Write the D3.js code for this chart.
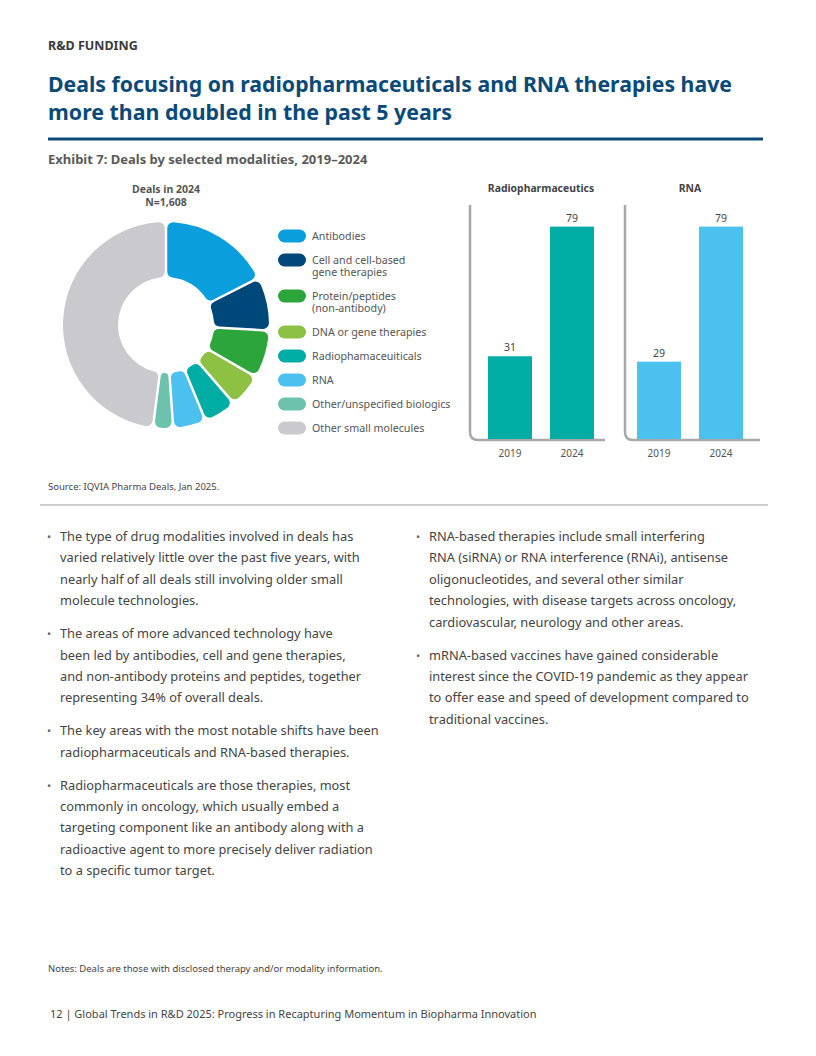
<!DOCTYPE html>
<html>
<head>
<meta charset="utf-8">
<script src="https://cdn.jsdelivr.net/npm/d3@7"></script>
<style>
    body { margin: 0; background: #fff; }
    text { font-family: "Noto Sans", "Open Sans", sans-serif; }
</style>
</head>
<body>
<div id="page"></div>
<script>
// donut: deals in 2024 by modality (N=1,608)
var modalities = ["Antibodies", "Cell and cell-based gene therapies", "Protein/peptides (non-antibody)",
    "DNA or gene therapies", "Radiophamaceuiticals", "RNA", "Other/unspecified biologics", "Other small molecules"];
var legendLines = [["Antibodies"], ["Cell and cell-based", "gene therapies"], ["Protein/peptides", "(non-antibody)"],
    ["DNA or gene therapies"], ["Radiophamaceuiticals"], ["RNA"], ["Other/unspecified biologics"], ["Other small molecules"]];
var deals2024 = [284, 132, 118, 82, 79, 79, 46, 788];
var modalityColors = ["#0a9fdc", "#004879", "#2ca53a", "#8cc143", "#00ada4", "#4cc0ef", "#6cc2ac", "#c9c9ce"];

// bar panels
var years = ["2019", "2024"];
var radioDeals = [31, 79];
var rnaDeals = [29, 79];

var bulletsLeft = [
    ["The type of drug modalities involved in deals has", "varied relatively little over the past five years, with",
        "nearly half of all deals still involving older small", "molecule technologies."],
    ["The areas of more advanced technology have", "been led by antibodies, cell and gene therapies,",
        "and non-antibody proteins and peptides, together", "representing 34% of overall deals."],
    ["The key areas with the most notable shifts have been", "radiopharmaceuticals and RNA-based therapies."],
    ["Radiopharmaceuticals are those therapies, most", "commonly in oncology, which usually embed a",
        "targeting component like an antibody along with a", "radioactive agent to more precisely deliver radiation",
        "to a specific tumor target."]
];
var bulletsRight = [
    ["RNA-based therapies include small interfering", "RNA (siRNA) or RNA interference (RNAi), antisense",
        "oligonucleotides, and several other similar", "technologies, with disease targets across oncology,",
        "cardiovascular, neurology and other areas."],
    ["mRNA-based vaccines have gained considerable", "interest since the COVID-19 pandemic as they appear",
        "to offer ease and speed of development compared to", "traditional vaccines."]
];

var W = 816, H = 1056;
var svg = d3.select("#page").append("svg")
    .attr("width", W)
    .attr("height", H);

// header
svg.append("text")
    .attr("x", 48).attr("y", 50)
    .style("font-size", "12.5px").style("font-weight", "700").style("fill", "#3a3a3a")
    .text("R&D FUNDING");

var titleLines = ["Deals focusing on radiopharmaceuticals and RNA therapies have", "more than doubled in the past 5 years"];
var titleWidths = [684, 404];
svg.selectAll(".title")
    .data(titleLines)
    .enter().append("text")
    .attr("class", "title")
    .attr("x", 48)
    .attr("y", function (d, i) { return 92 + i * 28; })
    .attr("textLength", function (d, i) { return titleWidths[i]; })
    .attr("lengthAdjust", "spacingAndGlyphs")
    .style("font-size", "22px").style("font-weight", "700").style("fill", "#0b4a78")
    .text(function (d) { return d; });

svg.append("line")
    .attr("x1", 48).attr("x2", 763).attr("y1", 139).attr("y2", 139)
    .style("stroke", "#0b4a78").style("stroke-width", 3);

svg.append("text")
    .attr("x", 48).attr("y", 164)
    .style("font-size", "13px").style("font-weight", "700").style("fill", "#5a5a5a")
    .text("Exhibit 7: Deals by selected modalities, 2019\u20132024");

// donut
var cx = 166, cy = 325;
svg.append("text")
    .attr("x", cx).attr("y", 193)
    .attr("text-anchor", "middle")
    .style("font-size", "10.5px").style("font-weight", "700").style("fill", "#555")
    .text("Deals in 2024");
svg.append("text")
    .attr("x", cx).attr("y", 206)
    .attr("text-anchor", "middle")
    .style("font-size", "10.5px").style("font-weight", "700").style("fill", "#555")
    .text("N=1,608");

var pie = d3.pie().sort(null).padAngle(0.022);
var arc = d3.arc().innerRadius(48).outerRadius(103).cornerRadius(6);

svg.append("g")
    .attr("transform", "translate(" + cx + "," + cy + ")")
    .selectAll("path")
    .data(pie(deals2024))
    .enter().append("path")
    .attr("d", arc)
    .style("fill", function (d, i) { return modalityColors[i]; });

// legend
var legendY = [];
var ly = 236;
legendLines.forEach(function (l) {
    legendY.push(ly);
    ly += 24 + (l.length - 1) * 12;
});

var legend = svg.selectAll(".legend")
    .data(legendLines)
    .enter().append("g")
    .attr("class", "legend")
    .attr("transform", function (d, i) { return "translate(278," + legendY[i] + ")"; });

legend.append("rect")
    .attr("x", 0).attr("y", -6.5)
    .attr("width", 28).attr("height", 13)
    .attr("rx", 6.5)
    .style("fill", function (d, i) { return modalityColors[i]; });

legend.each(function (d) {
    var g = d3.select(this);
    d.forEach(function (line, j) {
        g.append("text")
            .attr("x", 34).attr("y", j * 12)
            .attr("dy", "0.35em")
            .style("font-size", "10.7px").style("fill", "#555")
            .text(line);
    });
});

// bar panels
var y = d3.scaleLinear().domain([0, 87]).range([440, 205]);

var panels = [
    {title: "Radiopharmaceutics", values: radioDeals, color: "#00ada4", axisX: 470, axisEnd: 605, range: [470, 612]},
    {title: "RNA", values: rnaDeals, color: "#4cc0ef", axisX: 625, axisEnd: 760, range: [619, 761]}
];

panels.forEach(function (p) {
    var x = d3.scaleBand()
        .domain(years)
        .range(p.range)
        .paddingInner(0.29)
        .paddingOuter(0.29);

    var g = svg.append("g");

    // rounded L-shaped axis
    var r = 8, path = d3.path();
    path.moveTo(p.axisX, y.range()[1]);
    path.lineTo(p.axisX, y(0) - r);
    path.quadraticCurveTo(p.axisX, y(0), p.axisX + r, y(0));
    path.lineTo(p.axisEnd, y(0));
    g.append("path")
        .attr("d", path.toString())
        .style("fill", "none").style("stroke", "#a8a8a8").style("stroke-width", 2.5);

    g.selectAll("rect")
        .data(p.values)
        .enter().append("rect")
        .attr("x", function (d, i) { return x(years[i]); })
        .attr("y", function (d) { return y(d); })
        .attr("width", x.bandwidth())
        .attr("height", function (d) { return y(0) - y(d) - 1; })
        .style("fill", p.color);

    g.selectAll(".val")
        .data(p.values)
        .enter().append("text")
        .attr("class", "val")
        .attr("x", function (d, i) { return x(years[i]) + x.bandwidth() / 2; })
        .attr("y", function (d) { return y(d) - 5; })
        .attr("text-anchor", "middle")
        .style("font-size", "10.5px").style("fill", "#444")
        .text(function (d) { return d; });

    g.selectAll(".yr")
        .data(years)
        .enter().append("text")
        .attr("class", "yr")
        .attr("x", function (d) { return x(d) + x.bandwidth() / 2; })
        .attr("y", 457)
        .attr("text-anchor", "middle")
        .style("font-size", "10px").style("fill", "#555")
        .text(function (d) { return d; });

    g.append("text")
        .attr("x", (x(years[0]) + x(years[1]) + x.bandwidth()) / 2)
        .attr("y", 192)
        .attr("text-anchor", "middle")
        .style("font-size", "10.4px").style("font-weight", "700").style("fill", "#444")
        .text(p.title);
});

// source + divider
svg.append("text")
    .attr("x", 48).attr("y", 490)
    .style("font-size", "9.5px").style("fill", "#444")
    .text("Source: IQVIA Pharma Deals, Jan 2025.");

svg.append("line")
    .attr("x1", 40).attr("x2", 768).attr("y1", 505).attr("y2", 505)
    .style("stroke", "#cfcfcf").style("stroke-width", 2);

// bullets
function drawBullets(list, bx, tx, startY, gap) {
    var yy = startY;
    list.forEach(function (lines) {
        svg.append("text")
            .attr("x", bx).attr("y", yy)
            .style("font-size", "11px").style("fill", "#666")
            .text("\u2022");
        lines.forEach(function (line, j) {
            svg.append("text")
                .attr("x", tx).attr("y", yy + j * 21.4)
                .style("font-size", "12.8px").style("fill", "#444")
                .text(line);
        });
        yy += lines.length * 21.4 + gap;
    });
}
drawBullets(bulletsLeft, 47, 60, 541, 11.5);
drawBullets(bulletsRight, 416, 429, 541, 11.5);

// notes + footer
svg.append("text")
    .attr("x", 48).attr("y", 972)
    .style("font-size", "9.5px").style("fill", "#444")
    .text("Notes: Deals are those with disclosed therapy and/or modality information.");

svg.append("text")
    .attr("x", 50).attr("y", 1018)
    .style("font-size", "11px").style("fill", "#444")
    .text("12  |  Global Trends in R&D 2025: Progress in Recapturing Momentum in Biopharma Innovation");
</script>
</body>
</html>
